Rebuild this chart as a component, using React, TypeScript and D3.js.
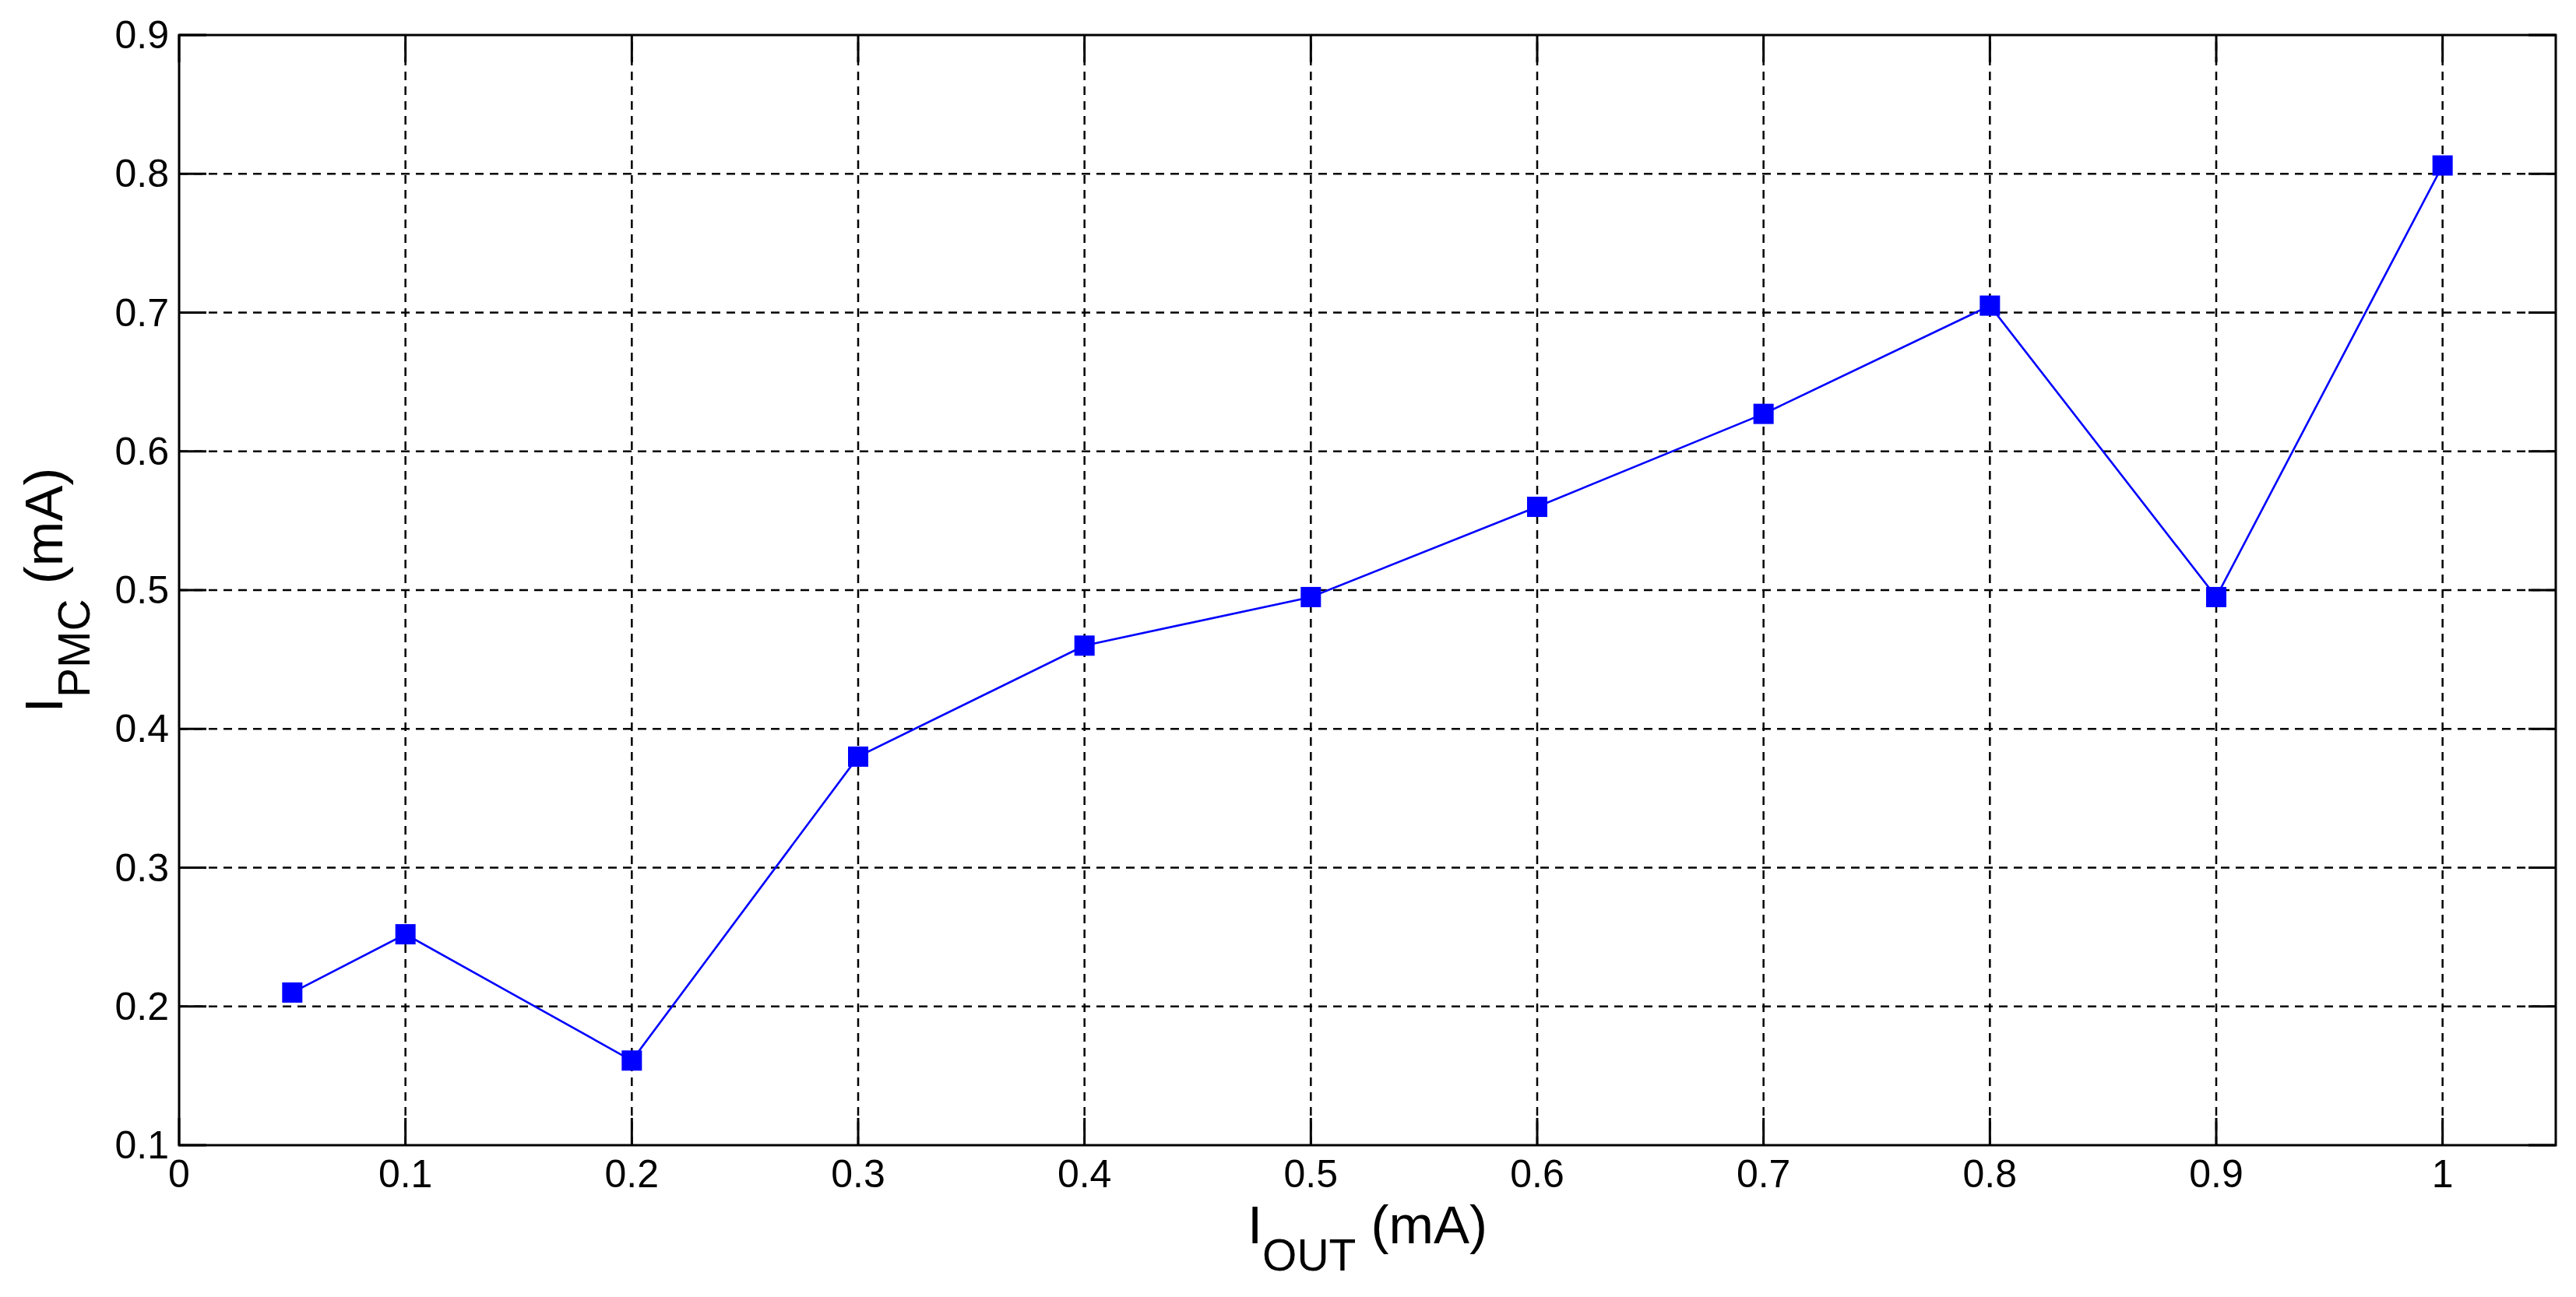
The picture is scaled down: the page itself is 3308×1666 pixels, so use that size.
import React from "react";
import * as d3 from "d3";

const xValues = [0.05, 0.1, 0.2, 0.3, 0.4, 0.5, 0.6, 0.7, 0.8, 0.9, 1.0];
const yValues = [0.21, 0.252, 0.161, 0.38, 0.46, 0.495, 0.56, 0.627, 0.705, 0.495, 0.806];
const xTicks = [0, 0.1, 0.2, 0.3, 0.4, 0.5, 0.6, 0.7, 0.8, 0.9, 1];
const yTicks = [0.1, 0.2, 0.3, 0.4, 0.5, 0.6, 0.7, 0.8, 0.9];
const xTickLabels = ["0", "0.1", "0.2", "0.3", "0.4", "0.5", "0.6", "0.7", "0.8", "0.9", "1"];
const yTickLabels = ["0.1", "0.2", "0.3", "0.4", "0.5", "0.6", "0.7", "0.8", "0.9"];

const W = 3308;
const H = 1666;
const L = 230, R = 3282, T = 45, B = 1471;
const FONT = "Arial, 'Liberation Sans', sans-serif";

export default function App() {
  const x = d3.scaleLinear().domain([0, 1.05]).range([L, R]);
  const y = d3.scaleLinear().domain([0.1, 0.9]).range([B, T]);
  const pts: [number, number][] = xValues.map((v, i) => [v, yValues[i]]);
  const line = d3.line<[number, number]>().x(d => x(d[0])).y(d => y(d[1]));
  const tick = 35;
  const ms = 26;
  return (
    <svg width={W} height={H} style={{ position: "absolute", left: 0, top: 0, background: "#fff" }} xmlns="http://www.w3.org/2000/svg">
      <rect x={0} y={0} width={W} height={H} fill="#fff" />
      {/* grid */}
      {xTicks.slice(1).map(t => (
        <line key={"gx" + t} x1={x(t)} x2={x(t)} y1={B} y2={T} stroke="#000" strokeWidth={2.5} strokeDasharray="11,8" />
      ))}
      {yTicks.slice(1, -1).map(t => (
        <line key={"gy" + t} x1={L} x2={R} y1={y(t)} y2={y(t)} stroke="#000" strokeWidth={2.5} strokeDasharray="11,8" />
      ))}
      {/* ticks */}
      {xTicks.map(t => (
        <g key={"tx" + t}>
          <line x1={x(t)} x2={x(t)} y1={B} y2={B - tick} stroke="#000" strokeWidth={3} />
          <line x1={x(t)} x2={x(t)} y1={T} y2={T + tick} stroke="#000" strokeWidth={3} />
        </g>
      ))}
      {yTicks.map(t => (
        <g key={"ty" + t}>
          <line x1={L} x2={L + tick} y1={y(t)} y2={y(t)} stroke="#000" strokeWidth={3} />
          <line x1={R} x2={R - tick} y1={y(t)} y2={y(t)} stroke="#000" strokeWidth={3} />
        </g>
      ))}
      {/* box */}
      <rect x={L} y={T} width={R - L} height={B - T} fill="none" stroke="#000" strokeWidth={3} />
      {/* data */}
      <path d={line(pts) || ""} fill="none" stroke="#0000ff" strokeWidth={2.6} />
      {pts.map((p, i) => (
        <rect key={"m" + i} x={x(p[0]) - ms / 2} y={y(p[1]) - ms / 2} width={ms} height={ms} fill="#0000ff" />
      ))}
      {/* tick labels */}
      {xTicks.map((t, i) => (
        <text key={"lx" + t} x={x(t)} y={1525} textAnchor="middle" fontFamily={FONT} fontSize={50} fill="#000">
          {xTickLabels[i]}
        </text>
      ))}
      {yTicks.map((t, i) => (
        <text key={"ly" + t} x={217} y={y(t) + 17} textAnchor="end" fontFamily={FONT} fontSize={50} fill="#000">
          {yTickLabels[i]}
        </text>
      ))}
      {/* axis labels */}
      <text x={(L + R) / 2} y={1597} textAnchor="middle" fontFamily={FONT} fontSize={69} fill="#000">
        <tspan>I</tspan>
        <tspan fontSize={57} dy={35}>OUT</tspan>
        <tspan dy={-35}> (mA)</tspan>
      </text>
      <text transform={`translate(80, ${(T + B) / 2}) rotate(-90)`} textAnchor="middle" fontFamily={FONT} fontSize={69} fill="#000">
        <tspan>I</tspan>
        <tspan fontSize={57} dy={35}>PMC</tspan>
        <tspan dy={-35}> (mA)</tspan>
      </text>
    </svg>
  );
}
